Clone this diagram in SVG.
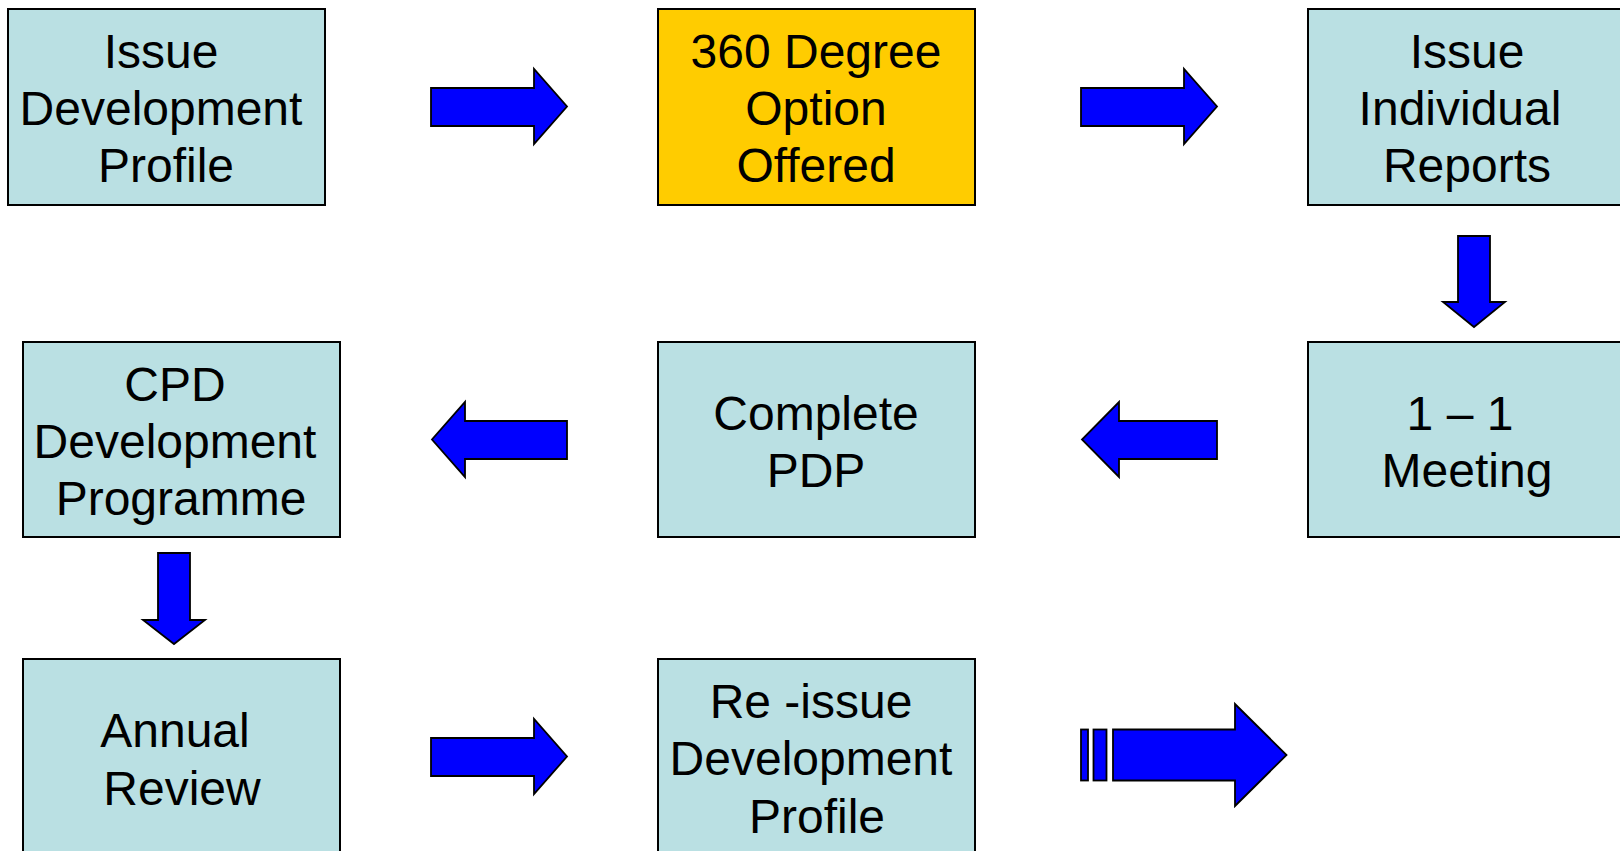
<svg xmlns="http://www.w3.org/2000/svg" width="1620" height="851" viewBox="0 0 1620 851">
<style>
.box{fill:#BAE0E3;stroke:#000;stroke-width:2}
.hl{fill:#FFCC00;stroke:#000;stroke-width:2}
.t{font-family:"Liberation Sans",Arial,sans-serif;font-size:48px;fill:#000;text-anchor:middle}
.arr{fill:#0000FF;stroke:#000;stroke-width:1.8;stroke-linejoin:miter}
</style>
<rect width="1620" height="851" fill="#fff"/>
<g id="n1"><rect class="box" x="8" y="9" width="317" height="196"/>
<text class="t"><tspan x="161" y="68">Issue</tspan><tspan x="161" y="125">Development</tspan><tspan x="166" y="182">Profile</tspan></text></g>
<g id="n2"><rect class="hl" x="658" y="9" width="317" height="196"/>
<text class="t"><tspan x="816" y="68">360 Degree</tspan><tspan x="816" y="125">Option</tspan><tspan x="816" y="182">Offered</tspan></text></g>
<g id="n3"><rect class="box" x="1308" y="9" width="330" height="196"/>
<text class="t"><tspan x="1467" y="68">Issue</tspan><tspan x="1460" y="125">Individual</tspan><tspan x="1467" y="182">Reports</tspan></text></g>
<g id="n4"><rect class="box" x="1308" y="342" width="330" height="195"/>
<text class="t"><tspan x="1460" y="430">1 – 1</tspan><tspan x="1467" y="487">Meeting</tspan></text></g>
<g id="n5"><rect class="box" x="658" y="342" width="317" height="195"/>
<text class="t"><tspan x="816" y="430">Complete</tspan><tspan x="816" y="487">PDP</tspan></text></g>
<g id="n6"><rect class="box" x="23" y="342" width="317" height="195"/>
<text class="t"><tspan x="175" y="401">CPD</tspan><tspan x="175" y="458">Development</tspan><tspan x="181" y="515">Programme</tspan></text></g>
<g id="n7"><rect class="box" x="23" y="659" width="317" height="210"/>
<text class="t"><tspan x="175" y="747">Annual</tspan><tspan x="182" y="805">Review</tspan></text></g>
<g id="n8"><rect class="box" x="658" y="659" width="317" height="210"/>
<text class="t"><tspan x="811" y="718">Re -issue</tspan><tspan x="811" y="775">Development</tspan><tspan x="817" y="833">Profile</tspan></text></g>
<g id="connectors">
<path class="arr" d="M431,88 H534 V69 L567,106.5 L534,144 V126 H431 Z"/>
<path class="arr" d="M1081,88 H1184 V69 L1217,106.5 L1184,144 V126 H1081 Z"/>
<path class="arr" d="M1458,236 H1490 V302 H1505 L1474,327 L1443,302 H1458 Z"/>
<path class="arr" d="M1217,421 H1119 V402 L1082,439.5 L1119,477 V459 H1217 Z"/>
<path class="arr" d="M567,421 H465 V402 L432,439.5 L465,477 V459 H567 Z"/>
<path class="arr" d="M158,553 H190 V620 H205 L174,644 L143,620 H158 Z"/>
<path class="arr" d="M431,738 H534 V719 L567,756.5 L534,794 V776 H431 Z"/>
<rect class="arr" x="1081" y="729.5" width="7" height="51"/>
<rect class="arr" x="1093.5" y="729.5" width="13" height="51"/>
<path class="arr" d="M1113,729.5 H1235 V704 L1286.5,755 L1235,806 V780.5 H1113 Z"/>
</g>
</svg>
